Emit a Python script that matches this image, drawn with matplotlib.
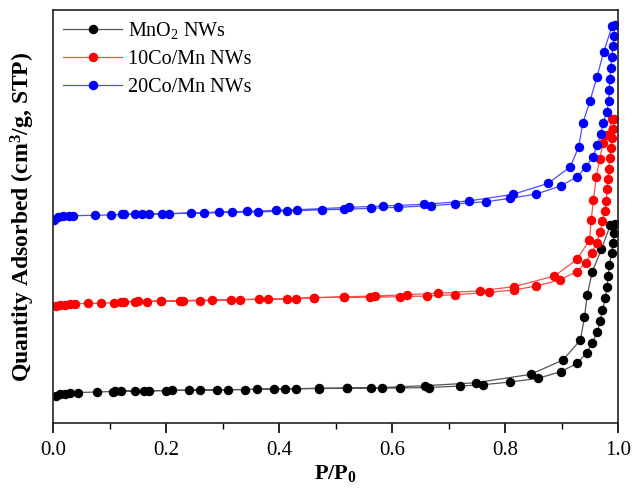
import numpy as np
import matplotlib
matplotlib.use("Agg")
import matplotlib.pyplot as plt
from matplotlib.ticker import MultipleLocator

plt.rcParams['font.family'] = ['Liberation Serif', 'DejaVu Serif']
plt.rcParams['mathtext.fontset'] = 'custom'
plt.rcParams['mathtext.rm'] = 'Liberation Serif'
plt.rcParams['mathtext.it'] = 'Liberation Serif:italic'
plt.rcParams['mathtext.bf'] = 'Liberation Serif:bold'

# MnO2 NWs: adsorption then desorption branch (arbitrary units)
mn_ads_x = [0.005, 0.012, 0.020, 0.030, 0.043, 0.078, 0.105, 0.120, 0.145, 0.170,
            0.200, 0.240, 0.290, 0.340, 0.390, 0.430, 0.470, 0.520, 0.562, 0.614,
            0.665, 0.720, 0.761, 0.809, 0.858, 0.898, 0.927, 0.944, 0.954, 0.963,
            0.968, 0.972, 0.977, 0.980, 0.982, 0.984, 0.988, 0.991, 0.992, 0.994]
mn_ads_y = [27.3, 29.3, 29.8, 30.3, 30.8, 31.3, 31.8, 32.0, 32.3, 32.5,
            32.8, 33.1, 33.5, 33.8, 34.3, 34.6, 34.8, 35.0, 35.0, 35.3,
            35.8, 37.3, 38.6, 41.3, 45.0, 51.6, 60.0, 70.6, 80.6, 91.6,
            102.6, 113.3, 125.0, 136.0, 147.3, 158.3, 170.0, 180.0, 190.0, 199.3]
mn_des_x = [0.986, 0.970, 0.954, 0.945, 0.940, 0.933, 0.902, 0.845, 0.748, 0.658,
            0.581, 0.520, 0.470, 0.410, 0.360, 0.310, 0.260, 0.210, 0.160, 0.110]
mn_des_y = [198.3, 174.0, 151.6, 128.3, 106.0, 83.3, 63.3, 49.0, 40.6, 37.6,
            35.8, 35.3, 35.0, 34.5, 34.0, 33.6, 33.3, 32.9, 32.5, 32.0]

# 10Co/Mn NWs
co10_ads_x = [0.004, 0.012, 0.021, 0.030, 0.039, 0.061, 0.085, 0.107, 0.126, 0.145,
              0.166, 0.191, 0.224, 0.259, 0.314, 0.364, 0.413, 0.462, 0.515, 0.561,
              0.614, 0.661, 0.711, 0.771, 0.815, 0.855, 0.896, 0.926, 0.942, 0.953,
              0.962, 0.968, 0.972, 0.976, 0.979, 0.980, 0.982, 0.983, 0.985, 0.987,
              0.988, 0.991, 0.993]
co10_ads_y = [117.3, 118.3, 118.8, 119.3, 119.6, 120.0, 120.0, 120.6, 121.6, 121.6,
              121.6, 122.3, 122.3, 122.6, 123.3, 124.0, 124.3, 125.6, 126.0, 126.0,
              126.6, 127.3, 128.6, 131.0, 133.3, 137.3, 143.3, 151.6, 160.6, 170.6,
              180.6, 191.6, 202.3, 212.3, 222.8, 234.0, 244.0, 254.3, 265.0, 275.0,
              285.0, 294.6, 304.6]
co10_des_x = [0.989, 0.980, 0.973, 0.967, 0.961, 0.956, 0.952, 0.949, 0.927, 0.887,
              0.815, 0.756, 0.680, 0.626, 0.569, 0.515, 0.461, 0.430, 0.380, 0.330,
              0.280, 0.230, 0.190, 0.150, 0.120]
co10_des_y = [303.8, 288.3, 280.0, 264.0, 246.6, 223.3, 203.3, 183.3, 164.0, 147.3,
              136.6, 132.6, 130.0, 128.6, 127.3, 126.5, 125.8, 124.8, 124.3, 123.8,
              123.3, 122.8, 122.3, 122.0, 121.5]

# 20Co/Mn NWs
co20_ads_x = [0.002, 0.009, 0.018, 0.027, 0.035, 0.073, 0.102, 0.122, 0.144, 0.169,
              0.204, 0.266, 0.317, 0.362, 0.413, 0.476, 0.514, 0.562, 0.610, 0.668,
              0.711, 0.766, 0.809, 0.855, 0.898, 0.927, 0.943, 0.955, 0.963, 0.969,
              0.973, 0.980, 0.983, 0.984, 0.985, 0.987, 0.988, 0.991, 0.992, 0.994]
co20_ads_y = [203.3, 206.6, 207.3, 207.6, 207.6, 208.0, 208.3, 209.0, 209.0, 209.3,
              209.6, 210.3, 211.0, 211.3, 212.3, 213.5, 214.0, 215.0, 216.0, 217.6,
              219.3, 221.6, 225.0, 229.3, 237.3, 246.6, 256.6, 266.6, 278.3, 289.3,
              300.6, 311.6, 322.6, 333.3, 344.0, 355.0, 366.0, 377.3, 387.6, 398.3]
co20_des_x = [0.989, 0.974, 0.962, 0.950, 0.937, 0.930, 0.915, 0.876, 0.814, 0.735,
              0.656, 0.583, 0.524, 0.432, 0.395, 0.343, 0.293, 0.243, 0.193, 0.157,
              0.125]
co20_des_y = [397.3, 371.0, 346.0, 322.6, 300.0, 276.6, 256.6, 240.0, 229.0, 222.3,
              219.0, 217.3, 216.0, 213.6, 213.0, 212.0, 211.3, 210.3, 209.6, 209.3,
              209.0]

labels = ['MnO$_2$ NWs', '10Co/Mn NWs', '20Co/Mn NWs']
series = [(mn_ads_x + mn_des_x, mn_ads_y + mn_des_y, '#555555', 'black'),
          (co10_ads_x + co10_des_x, co10_ads_y + co10_des_y, '#ff4d4d', 'red'),
          (co20_ads_x + co20_des_x, co20_ads_y + co20_des_y, '#4d4dff', 'blue')]

fig = plt.figure(figsize=(6.33, 4.92), dpi=100)
ax = fig.add_axes([0.0842, 0.1396, 0.8926, 0.8401])

for (x, y, lc, mc), lab in zip(series, labels):
    ax.plot(x, y, '-', color=lc, lw=0.9, marker='o', ms=5.8,
            mfc=mc, mec=mc, label=lab)

ax.set_xlim(0, 1.0)
ax.set_ylim(0, 413.3)
ax.xaxis.set_major_locator(MultipleLocator(0.2))
ax.xaxis.set_minor_locator(MultipleLocator(0.1))
ax.tick_params(axis='x', which='major', direction='out', length=7, width=1.2,
               labelsize=15, pad=6)
ax.tick_params(axis='x', which='minor', direction='out', length=4, width=1.0)
ax.set_yticks([])
ax.xaxis.set_major_formatter(matplotlib.ticker.FormatStrFormatter('%.1f'))
for s in ax.spines.values():
    s.set_linewidth(1.2)
    s.set_color('#222222')

ax.set_xlabel(r'P/P$_\mathbf{0}$', fontsize=16, fontweight='bold', labelpad=2)
ax.set_ylabel(r'Quantity Adsorbed (cm$^\mathbf{3}$/g, STP)', fontsize=17,
              fontweight='bold', labelpad=12)

ax.legend(loc='upper left', frameon=False, fontsize=14.5, handlelength=2.9,
          handletextpad=0.3, labelspacing=0.45, borderaxespad=0.2,
          borderpad=0.3)

fig.savefig('out.png', dpi=100)
